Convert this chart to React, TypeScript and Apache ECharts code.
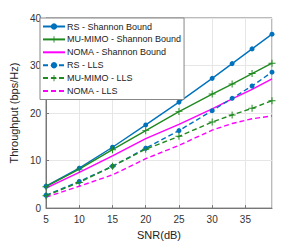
import React, { useEffect, useRef } from "react";
import * as echarts from "echarts";

const snr = [5, 10, 15, 20, 25, 30, 33, 36, 39];
const rsShannon = [4.6, 8.4, 12.8, 17.5, 22.3, 27.3, 30.4, 33.5, 36.6];
const muShannon = [4.5, 8.2, 12.3, 16.3, 20.3, 24.0, 26.1, 28.3, 30.5];
const nomaShannon = [4.2, 7.5, 11.0, 14.6, 17.6, 20.9, 23.0, 25.0, 27.2];
const rsLLS = [2.7, 5.6, 8.8, 12.6, 16.3, 20.5, 23.1, 25.7, 28.6];
const muLLS = [2.6, 5.4, 8.8, 12.4, 15.1, 18.1, 19.6, 21.0, 22.6];
const nomaLLS = [2.3, 4.6, 7.0, 10.4, 13.2, 16.4, 17.8, 18.8, 19.4];
const seriesNames = [
  "RS - Shannon Bound",
  "MU-MIMO - Shannon Bound",
  "NOMA - Shannon Bound",
  "RS - LLS",
  "MU-MIMO - LLS",
  "NOMA - LLS",
];

const BLUE = "#0072BD";
const GREEN = "#1F8A1F";
const MAGENTA = "#FF00FF";
const PLUS = "path://M4,0h1.4v4.3h4.3v1.4h-4.3v4.3h-1.4v-4.3h-4.3v-1.4h4.3z";
const FONT = "Liberation Sans";

function pairs(ys: number[]) {
  return ys.map((y, i) => [snr[i], y]);
}

export default function App() {
  const ref = useRef<HTMLDivElement>(null);
  useEffect(() => {
    const chart = echarts.init(ref.current!, null, { renderer: "svg" });
    const mk = (
      name: string,
      ys: number[],
      color: string,
      dashed: boolean,
      symbol: string,
      size: number
    ) => ({
      name,
      type: "line",
      data: pairs(ys),
      showSymbol: symbol !== "none",
      symbol,
      symbolSize: size,
      itemStyle: { color },
      lineStyle: { color, width: 1.4, type: dashed ? [5, 3] : "solid" },
      z: 3,
    });
    const legendData = seriesNames.map((n) =>
      n.startsWith("NOMA") ? { name: n, itemStyle: { opacity: 0 } } : { name: n }
    );
    chart.setOption({
      animation: false,
      textStyle: { fontFamily: FONT },
      grid: {
        left: 39,
        right: 28,
        top: 18,
        bottom: 35,
        show: true,
        borderColor: "#777",
        borderWidth: 1,
        backgroundColor: "#fff",
      },
      legend: {
        orient: "vertical",
        left: 40,
        top: 18,
        itemWidth: 22,
        itemHeight: 8,
        itemGap: 3.9,
        padding: [4, 3, 4, 2],
        backgroundColor: "#fff",
        borderColor: "#888",
        borderWidth: 1,
        textStyle: { fontSize: 9, color: "#222", fontFamily: FONT, padding: [0, 0, 0, -3] },
        data: legendData,
      },
      xAxis: {
        type: "value",
        min: 5,
        max: 39,
        interval: 5,
        name: "SNR(dB)",
        nameLocation: "middle",
        nameGap: 20,
        nameTextStyle: { fontSize: 11, color: "#222", fontFamily: FONT },
        axisLine: { show: true, lineStyle: { color: "#777" } },
        axisTick: { show: true, inside: true, length: 3, lineStyle: { color: "#777" } },
        axisLabel: { fontSize: 10, color: "#333", margin: 6, showMaxLabel: false },
        splitLine: { show: true, lineStyle: { color: "#e6e6e6", width: 1 } },
      },
      yAxis: {
        type: "value",
        min: 0,
        max: 40,
        interval: 10,
        name: "Throughput (bps/Hz)",
        nameLocation: "middle",
        nameGap: 22,
        nameTextStyle: { fontSize: 11, color: "#222", fontFamily: FONT },
        axisLine: { show: true, lineStyle: { color: "#777" } },
        axisTick: { show: true, inside: true, length: 3, lineStyle: { color: "#777" } },
        axisLabel: { fontSize: 10, color: "#333", margin: 5 },
        splitLine: { show: true, lineStyle: { color: "#e6e6e6", width: 1 } },
      },
      series: [
        mk(seriesNames[0], rsShannon, BLUE, false, "circle", 5),
        mk(seriesNames[1], muShannon, GREEN, false, PLUS, 7),
        mk(seriesNames[2], nomaShannon, MAGENTA, false, "none", 0),
        mk(seriesNames[3], rsLLS, BLUE, true, "circle", 5),
        mk(seriesNames[4], muLLS, GREEN, true, PLUS, 7),
        mk(seriesNames[5], nomaLLS, MAGENTA, true, "none", 0),
      ],
    });
    return () => chart.dispose();
  }, []);
  return (
    <div
      ref={ref}
      style={{ position: "fixed", left: 0, top: 0, width: 300, height: 245, background: "#fff" }}
    />
  );
}
